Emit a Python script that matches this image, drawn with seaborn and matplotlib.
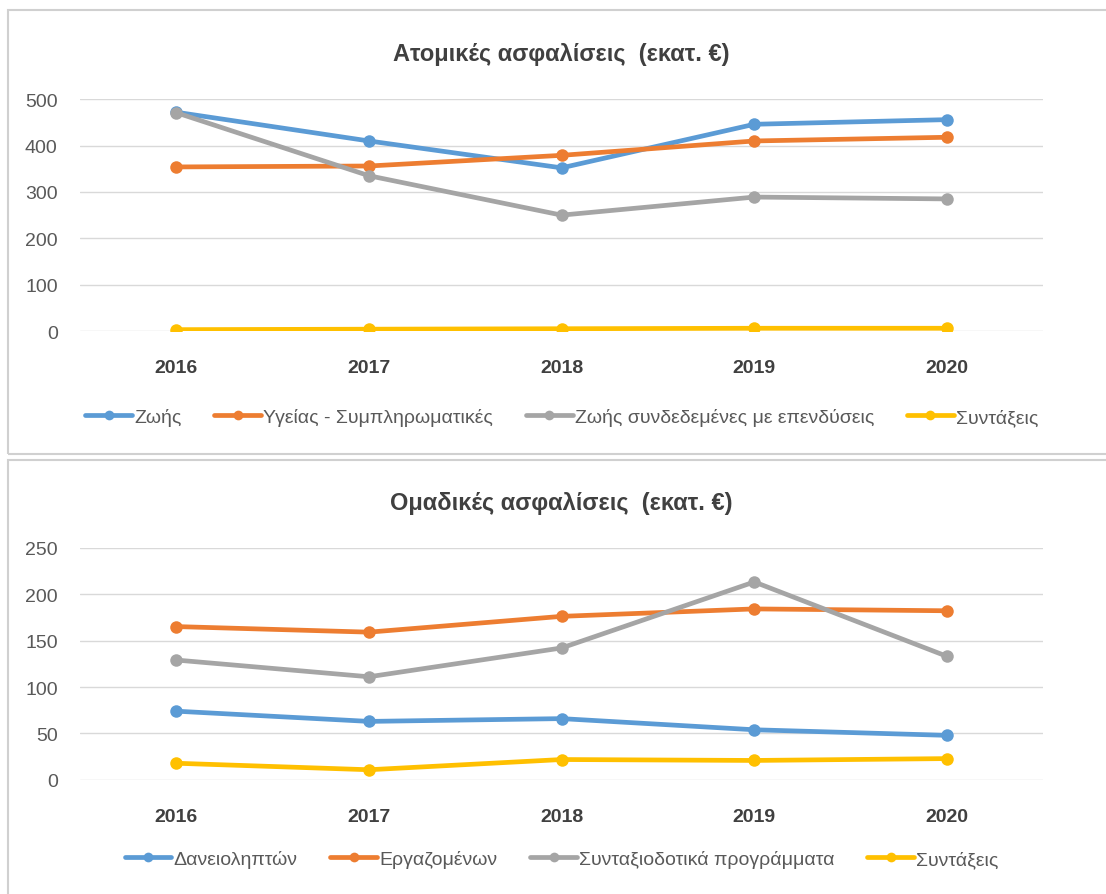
import pandas as pd
import matplotlib.pyplot as plt
import seaborn as sns
from matplotlib import font_manager as fm
from matplotlib.patches import Rectangle

# Data
years = [2016, 2017, 2018, 2019, 2020]

# Individual insurance (million €)
atomikes_series = ['Ζωής', 'Υγείας - Συμπληρωματικές', 'Ζωής συνδεδεμένες με επενδύσεις', 'Συντάξεις']
zois = [472, 410, 352, 446, 456]
ygeias = [354, 356, 379, 410, 418]
zois_ependyseis = [471, 335, 250, 289, 285]
syntaxeis_atom = [3, 4, 5, 6, 6]

# Group insurance (million €)
omadikes_series = ['Δανειοληπτών', 'Εργαζομένων', 'Συνταξιοδοτικά προγράμματα', 'Συντάξεις']
daneioliptes = [74, 63, 66, 54, 48]
ergazomenoi = [165, 159, 176, 184, 182]
syntaxiodotika = [129, 111, 142, 213, 133]
syntaxeis_omad = [18, 11, 22, 21, 23]

colors = ['#5B9BD5', '#ED7D31', '#A5A5A5', '#FFC000']

sns.set_theme(style='white')

# narrow Calibri-like look if available
installed = {f.name for f in fm.fontManager.ttflist}
narrow = 'Liberation Sans Narrow' if 'Liberation Sans Narrow' in installed else 'Liberation Sans'
narrow_bold = [f.name for f in fm.fontManager.ttflist
               if f.name == narrow and f.weight in ('bold', 700)]
bold_family = narrow if narrow_bold else 'Liberation Sans'
plt.rcParams['font.family'] = [narrow, 'DejaVu Sans']


def long_df(names, values):
    rows = []
    for name, vals in zip(names, values):
        for y, v in zip(years, vals):
            rows.append({'Έτος': y, 'Σειρά': name, 'Τιμή': v})
    return pd.DataFrame(rows)


def draw_panel(ax, df, names, title, ymax, step, legend_y):
    sns.lineplot(data=df, x='Έτος', y='Τιμή', hue='Σειρά', hue_order=names,
                 palette=colors, marker='o', markersize=9, markeredgewidth=0,
                 linewidth=3.4, ax=ax, legend=False, zorder=3)
    ax.set_xlim(2015.5, 2020.5)
    ax.set_ylim(0, ymax)
    ax.set_yticks(range(0, ymax + 1, step))
    ax.set_xticks(years)
    ax.set_xticklabels([str(y) for y in years], fontsize=14, fontweight='bold',
                       color='#404040', family=[bold_family, 'DejaVu Sans'])
    ax.tick_params(axis='y', labelsize=14, labelcolor='#595959', length=0, pad=16)
    ax.tick_params(axis='x', length=0, pad=20)
    ax.yaxis.grid(True, color='#D9D9D9', linewidth=1)
    ax.set_xlabel('')
    ax.set_ylabel('')
    for s in ax.spines.values():
        s.set_visible(False)
    ax.set_title(title, fontsize=17, fontweight='bold', color='#404040', pad=28,
                 family=[bold_family, 'DejaVu Sans'])
    handles = [plt.Line2D([], [], color=c, marker='o', markersize=7, linewidth=3.4,
                          markeredgewidth=0) for c in colors]
    ax.legend(handles, names, loc='center', bbox_to_anchor=(0.5, legend_y), ncol=4,
              frameon=False, fontsize=14, handlelength=2.4, handletextpad=0.1,
              columnspacing=1.7, labelcolor='#595959')


fig = plt.figure(figsize=(11.06, 8.95), dpi=100)

# panel frames
for y0, h in [(1 - 455 / 895, 444 / 895), (-0.01, 1 - 459 / 895 + 0.008)]:
    fig.patches.append(Rectangle((8 / 1106, y0), 1.05, h, transform=fig.transFigure,
                                 fill=False, edgecolor='#D0D0D0', linewidth=1.5))

ax1 = fig.add_axes([0.0723, 0.629, 0.871, 0.259])
ax2 = fig.add_axes([0.0723, 0.1274, 0.871, 0.2597])

df1 = long_df(atomikes_series, [zois, ygeias, zois_ependyseis, syntaxeis_atom])
df2 = long_df(omadikes_series, [daneioliptes, ergazomenoi, syntaxiodotika, syntaxeis_omad])

draw_panel(ax1, df1, atomikes_series, 'Ατομικές ασφαλίσεις  (εκατ. €)', 500, 100, -0.37)
draw_panel(ax2, df2, omadikes_series, 'Ομαδικές ασφαλίσεις  (εκατ. €)', 250, 50, -0.34)

fig.savefig('out.png', dpi=100)
